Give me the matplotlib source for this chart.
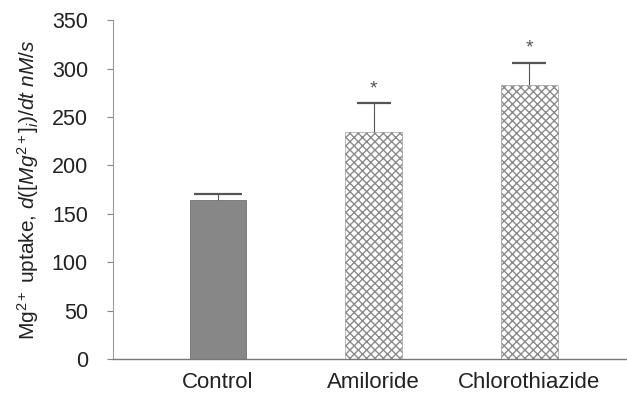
import matplotlib
matplotlib.use("Agg")
import matplotlib.pyplot as plt

categories = ["Control", "Amiloride", "Chlorothiazide"]
values = [164, 234, 283]
errors = [6, 30, 23]
significant = [False, True, True]
yticks = [0, 50, 100, 150, 200, 250, 300, 350]

plt.rcParams['font.family'] = ['Liberation Sans', 'DejaVu Sans']
plt.rcParams['mathtext.fontset'] = 'custom'
plt.rcParams['mathtext.rm'] = 'Liberation Sans'
plt.rcParams['mathtext.it'] = 'Liberation Sans:italic'
plt.rcParams['hatch.color'] = '#707070'
plt.rcParams['hatch.linewidth'] = 1.0

fig = plt.figure(figsize=(6.27, 3.95), dpi=100)
ax = fig.add_axes([0.180, 0.091, 0.818, 0.858])

x = list(range(len(categories)))
w = 0.365
bars = ax.bar(x, values, width=w, zorder=2)
for i, b in enumerate(bars):
    if i == 0:
        b.set_facecolor('#878787')
        b.set_edgecolor('#707070')
        b.set_linewidth(0.6)
    else:
        b.set_facecolor('white')
        b.set_edgecolor('#8a8a8a')
        b.set_hatch('xxxx')
        b.set_linewidth(0.4)

caps = [17, 12.5, 12.5]
for i in x:
    _, caplines, _ = ax.errorbar(i, values[i], yerr=[[0], [errors[i]]], fmt='none',
                                 ecolor='#555555', elinewidth=0.8, capsize=caps[i],
                                 capthick=1.6, zorder=1)
    if len(caplines) > 1:
        caplines[0].set_visible(False)
    if significant[i]:
        ax.text(i, values[i] + errors[i] + 6, '*', ha='center', va='bottom',
                fontsize=14, color='#555555')

ax.set_xlim(-0.676, 2.62)
ax.set_ylim(0, 350)
ax.set_yticks(yticks)
ax.set_xticks(x)
ax.set_xticklabels(categories, fontsize=16)
ax.tick_params(axis='x', length=0, pad=9)
ax.tick_params(axis='y', direction='out', length=4, width=0.8, color='#888888',
               labelsize=15.5, pad=14, labelcolor='#222222')
for lbl in ax.get_xticklabels():
    lbl.set_color('#222222')
for s in ['top', 'right']:
    ax.spines[s].set_visible(False)
ax.spines['left'].set_color('#999999')
ax.spines['bottom'].set_color('#777777')
ax.spines['left'].set_linewidth(0.8)
ax.spines['bottom'].set_linewidth(1.0)

ax.set_ylabel(r'Mg$^{2+}$ uptake, $d([Mg^{2+}]_i)/dt\ nM/s$', fontsize=15, color='#222222')
ax.yaxis.set_label_coords(-0.14, 0.5)

fig.savefig('out.png', dpi=100)
